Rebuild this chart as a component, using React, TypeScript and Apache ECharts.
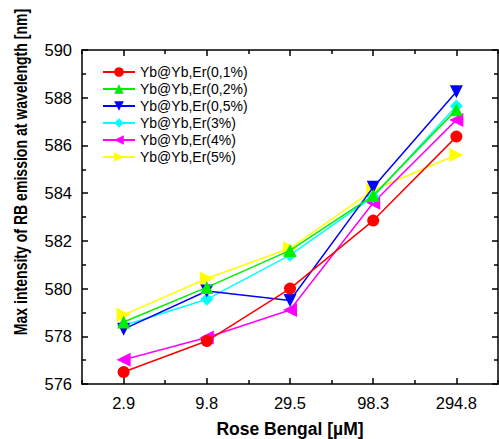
import React, { useEffect, useRef } from "react";
import * as echarts from "echarts";

const categories = ["2.9", "9.8", "29.5", "98.3", "294.8"];
const seriesNames = [
  "Yb@Yb,Er(0,1%)",
  "Yb@Yb,Er(0,2%)",
  "Yb@Yb,Er(0,5%)",
  "Yb@Yb,Er(3%)",
  "Yb@Yb,Er(4%)",
  "Yb@Yb,Er(5%)",
];
const er01 = [576.5, 577.8, 580.0, 582.85, 586.37];
const er02 = [578.6, 580.05, 581.6, 583.9, 587.5];
const er05 = [578.3, 579.9, 579.5, 584.25, 588.25];
const er3 = [578.45, 579.55, 581.4, 583.85, 587.65];
const er4 = [577.02, 577.95, 579.1, 583.6, 587.07];
const er5 = [578.9, 580.42, 581.69, 584.13, 585.6];
const seriesData = [er01, er02, er05, er3, er4, er5];
const colors = ["#ff0000", "#00ee00", "#0000ff", "#00ffff", "#ff00ff", "#ffff00"];
const symbols = ["circle", "triangle", "triangle", "diamond", "triangle", "triangle"];
const rotations = [0, 0, 180, 0, 90, -90];
const symbolSizes = [12, 13, 13, 13, 14, 14];

export default function App() {
  const ref = useRef<HTMLDivElement>(null);
  useEffect(() => {
    if (!ref.current) return;
    const chart = echarts.init(ref.current, null, { renderer: "svg" });
    const font = "Liberation Sans, Arial, sans-serif";
    const grid = { left: 82, right: 1, top: 50, bottom: 55, containLabel: false, outerBoundsMode: "none" };
    const axisLine = { show: true, lineStyle: { color: "#000", width: 1.5 } };
    chart.setOption({
      animation: false,
      backgroundColor: "#fff",
      textStyle: { fontFamily: font },
      grid,
      legend: {
        left: 97,
        top: 60,
        orient: "vertical",
        itemWidth: 32,
        itemHeight: 12,
        itemGap: 3,
        data: seriesNames,
        textStyle: { fontSize: 14, color: "#000", fontFamily: font },
      },
      xAxis: [
        {
          type: "category",
          data: categories,
          position: "bottom",
          boundaryGap: true,
          name: "Rose Bengal [\u00b5M]",
          nameLocation: "middle",
          nameGap: 36,
          nameTextStyle: { fontSize: 17.5, fontWeight: "bold", color: "#000", fontFamily: font },
          axisLine,
          axisTick: { show: true, inside: true, alignWithLabel: true, length: 6, lineStyle: { width: 1.5, color: "#000" } },
          axisLabel: { fontSize: 16.5, color: "#000", margin: 10, fontFamily: font },
          splitLine: { show: false },
        },
        {
          type: "category",
          data: categories,
          position: "bottom",
          boundaryGap: true,
          axisLine: { show: false },
          axisTick: { show: true, inside: true, length: 4, lineStyle: { width: 1.5, color: "#000" } },
          axisLabel: { show: false },
          splitLine: { show: false },
        },
        {
          type: "category",
          data: categories,
          position: "top",
          boundaryGap: true,
          axisLine,
          axisTick: { show: true, inside: true, alignWithLabel: true, length: 6, lineStyle: { width: 1.5, color: "#000" } },
          axisLabel: { show: false },
          splitLine: { show: false },
        },
        {
          type: "category",
          data: categories,
          position: "top",
          boundaryGap: true,
          axisLine: { show: false },
          axisTick: { show: true, inside: true, length: 4, lineStyle: { width: 1.5, color: "#000" } },
          axisLabel: { show: false },
          splitLine: { show: false },
        },
      ],
      yAxis: [
        {
          type: "value",
          min: 576,
          max: 590,
          interval: 2,
          position: "left",
          axisLine,
          axisTick: { show: true, inside: true, length: 6, lineStyle: { width: 1.5, color: "#000" } },
          minorTick: { show: true, splitNumber: 2, length: 4, lineStyle: { width: 1.5, color: "#000" } },
          axisLabel: { fontSize: 16.5, color: "#000", margin: 10, fontFamily: font },
          splitLine: { show: false },
        },
        {
          type: "value",
          min: 576,
          max: 590,
          interval: 2,
          position: "right",
          axisLine,
          axisTick: { show: true, inside: true, length: 6, lineStyle: { width: 1.5, color: "#000" } },
          minorTick: { show: true, splitNumber: 2, length: 4, lineStyle: { width: 1.5, color: "#000" } },
          axisLabel: { show: false },
          splitLine: { show: false },
        },
      ],
      graphic: [
        {
          type: "text",
          x: 21,
          y: 172,
          rotation: Math.PI / 2,
          scaleX: 0.74,
          scaleY: 1,
          style: {
            text: "Max intensity of RB emission at wavelength [nm]",
            fontSize: 19,
            fontWeight: "bold",
            fontFamily: font,
            fill: "#000",
            align: "center",
            verticalAlign: "middle",
          },
        },
      ],
      series: seriesNames.map((name, i) => ({
        name,
        type: "line",
        data: seriesData[i],
        xAxisIndex: 0,
        yAxisIndex: 0,
        symbol: symbols[i],
        symbolRotate: rotations[i],
        symbolSize: symbolSizes[i],
        showAllSymbol: true,
        color: colors[i],
        lineStyle: { width: 1.5, color: colors[i] },
        itemStyle: { color: colors[i] },
        z: 10 - i,
      })),
    });
    return () => chart.dispose();
  }, []);
  return (
    <div
      ref={ref}
      style={{ position: "absolute", left: 0, top: 0, width: 499, height: 439 }}
    />
  );
}
